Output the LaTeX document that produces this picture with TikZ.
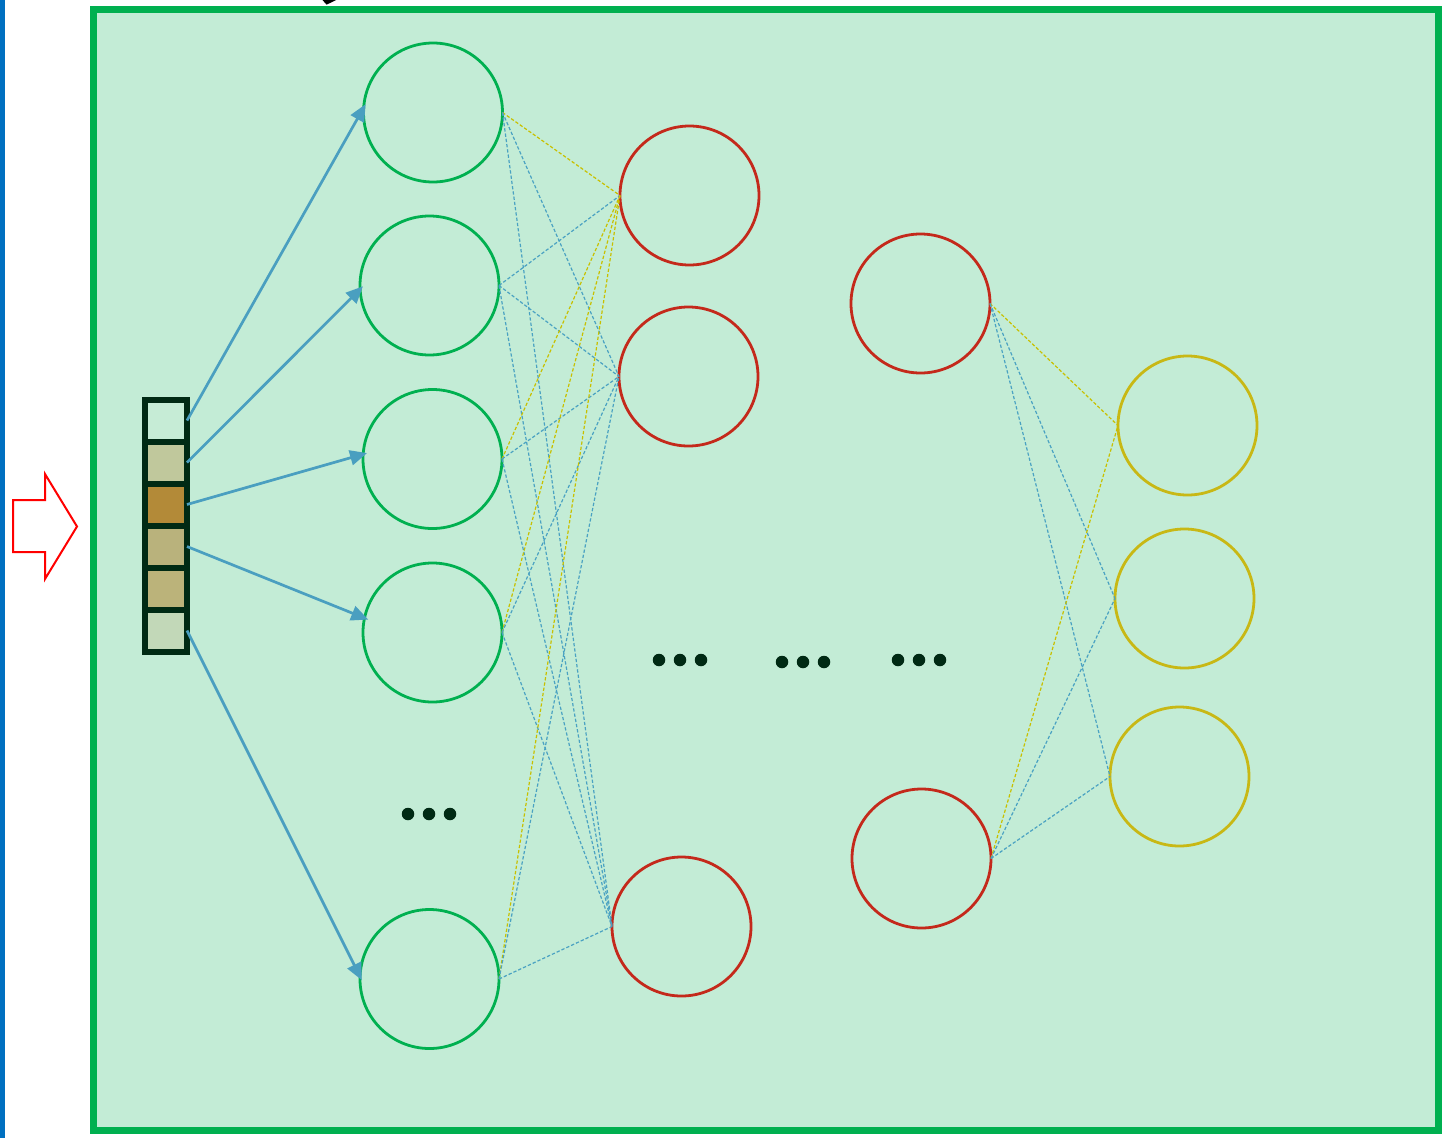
\documentclass[tikz,border=0pt]{standalone}
\usetikzlibrary{arrows.meta}
\definecolor{sideBlue}{HTML}{0070C0}
\definecolor{frameGreen}{HTML}{00B050}
\definecolor{panelFill}{HTML}{C3ECD6}
\definecolor{cellEdge}{HTML}{002A14}
\definecolor{inGreen}{HTML}{00B050}
\definecolor{hidRed}{HTML}{C4291B}
\definecolor{outYellow}{HTML}{C8B815}
\definecolor{arrowBlue}{HTML}{4A9FC0}
\definecolor{linkBlue}{HTML}{4AA2C2}
\definecolor{linkYellow}{HTML}{C8C000}
\definecolor{cellA}{HTML}{C6ECD6}
\definecolor{cellB}{HTML}{C0C89C}
\definecolor{cellC}{HTML}{B38A38}
\definecolor{cellD}{HTML}{B9B27C}
\definecolor{cellE}{HTML}{BBB37A}
\definecolor{cellF}{HTML}{C2D8B8}
\begin{document}
\begin{tikzpicture}[x=1pt,y=-1pt,
  neuron/.style={circle,draw,line width=2.8pt,minimum size=139pt,inner sep=0pt,outer sep=0pt},
  inN/.style={neuron,draw=inGreen},
  hidN/.style={neuron,draw=hidRed},
  outN/.style={neuron,draw=outYellow},
  cell/.style={rectangle,draw=cellEdge,line width=6pt,minimum width=42pt,minimum height=42pt,inner sep=0pt,outer sep=0pt},
  feed/.style={draw=arrowBlue,line width=2.7pt,-{Triangle[length=17pt,width=15pt]},shorten >=-4pt},
  link/.style={dashed,dash pattern=on 3.3pt off 2pt,line width=1.2pt},
  lB/.style={link,draw=linkBlue},
  lY/.style={link,draw=linkYellow},
  dot/.style={circle,fill=cellEdge,minimum size=12.5pt,inner sep=0pt}]
\useasboundingbox (0,0) rectangle (1448,1138);

% left margin rule and main panel
\fill[sideBlue] (0,0) rectangle (5,1138);
\draw[frameGreen,line width=7pt,fill=panelFill] (93,9.5) rectangle (1438.5,1130.5);

% clipped glyph tail above the panel
\fill[black] (322.5,0) -- (336,0) -- (331,2.6) -- (326.5,4.6) -- cycle;

% input arrow
\draw[red,line width=2pt,fill=white] (13,500) -- (45,500) -- (45,474) -- (77,526.5)
  -- (45,579) -- (45,552) -- (13,552) -- cycle;

% input vector
\node[cell,fill=cellA] (c1) at (166,420.5) {};
\node[cell,fill=cellB] (c2) at (166,462.5) {};
\node[cell,fill=cellC] (c3) at (166,504.5) {};
\node[cell,fill=cellD] (c4) at (166,546.5) {};
\node[cell,fill=cellE] (c5) at (166,588.5) {};
\node[cell,fill=cellF] (c6) at (166,630.5) {};

% neurons
\node[inN] (g1) at (433,112.5) {};
\node[inN] (g2) at (429.5,285.5) {};
\node[inN] (g3) at (432.5,459) {};
\node[inN] (g4) at (432.5,632.5) {};
\node[inN] (g5) at (429.5,979) {};
\node[hidN] (r1) at (689.5,195.5) {};
\node[hidN] (r2) at (688.5,376.5) {};
\node[hidN] (r3) at (681.5,926.5) {};
\node[hidN] (r4) at (920.5,303.5) {};
\node[hidN] (r5) at (921.5,858.5) {};
\node[outN] (y1) at (1187.5,425.5) {};
\node[outN] (y2) at (1184.5,598.5) {};
\node[outN] (y3) at (1179.5,776.5) {};

% weighted links
\foreach \s/\t/\k in {g1/r1/lY,g1/r2/lB,g1/r3/lB,
                      g2/r1/lB,g2/r2/lB,g2/r3/lB,
                      g3/r1/lY,g3/r2/lB,g3/r3/lB,
                      g4/r1/lY,g4/r2/lB,g4/r3/lB,
                      g5/r1/lY,g5/r2/lB,g5/r3/lB,
                      r4/y1/lY,r4/y2/lB,r4/y3/lB,
                      r5/y1/lY,r5/y2/lB,r5/y3/lB}
  \draw[\k] (\s.east) -- (\t.west);

% feed arrows from the vector
\draw[feed] (c1.east) -- (g1.176.5);
\draw[feed] (c2.east) -- (g2.183.6);
\draw[feed] (c3.east) -- (g3.176);
\draw[feed] (c4.east) -- (g4.168);
\draw[feed] (c6.east) -- (g5.178);

% ellipses
\foreach \n/\x/\y in {a/659/660,b/680/660,c/701/660,
                      d/782/662,e/803/662,f/824/662,
                      g/898/660,h/919/660,i/940/660,
                      j/408/814,k/429/814,l/450/814}
  \node[dot] (dot\n) at (\x,\y) {};
\end{tikzpicture}
\end{document}
